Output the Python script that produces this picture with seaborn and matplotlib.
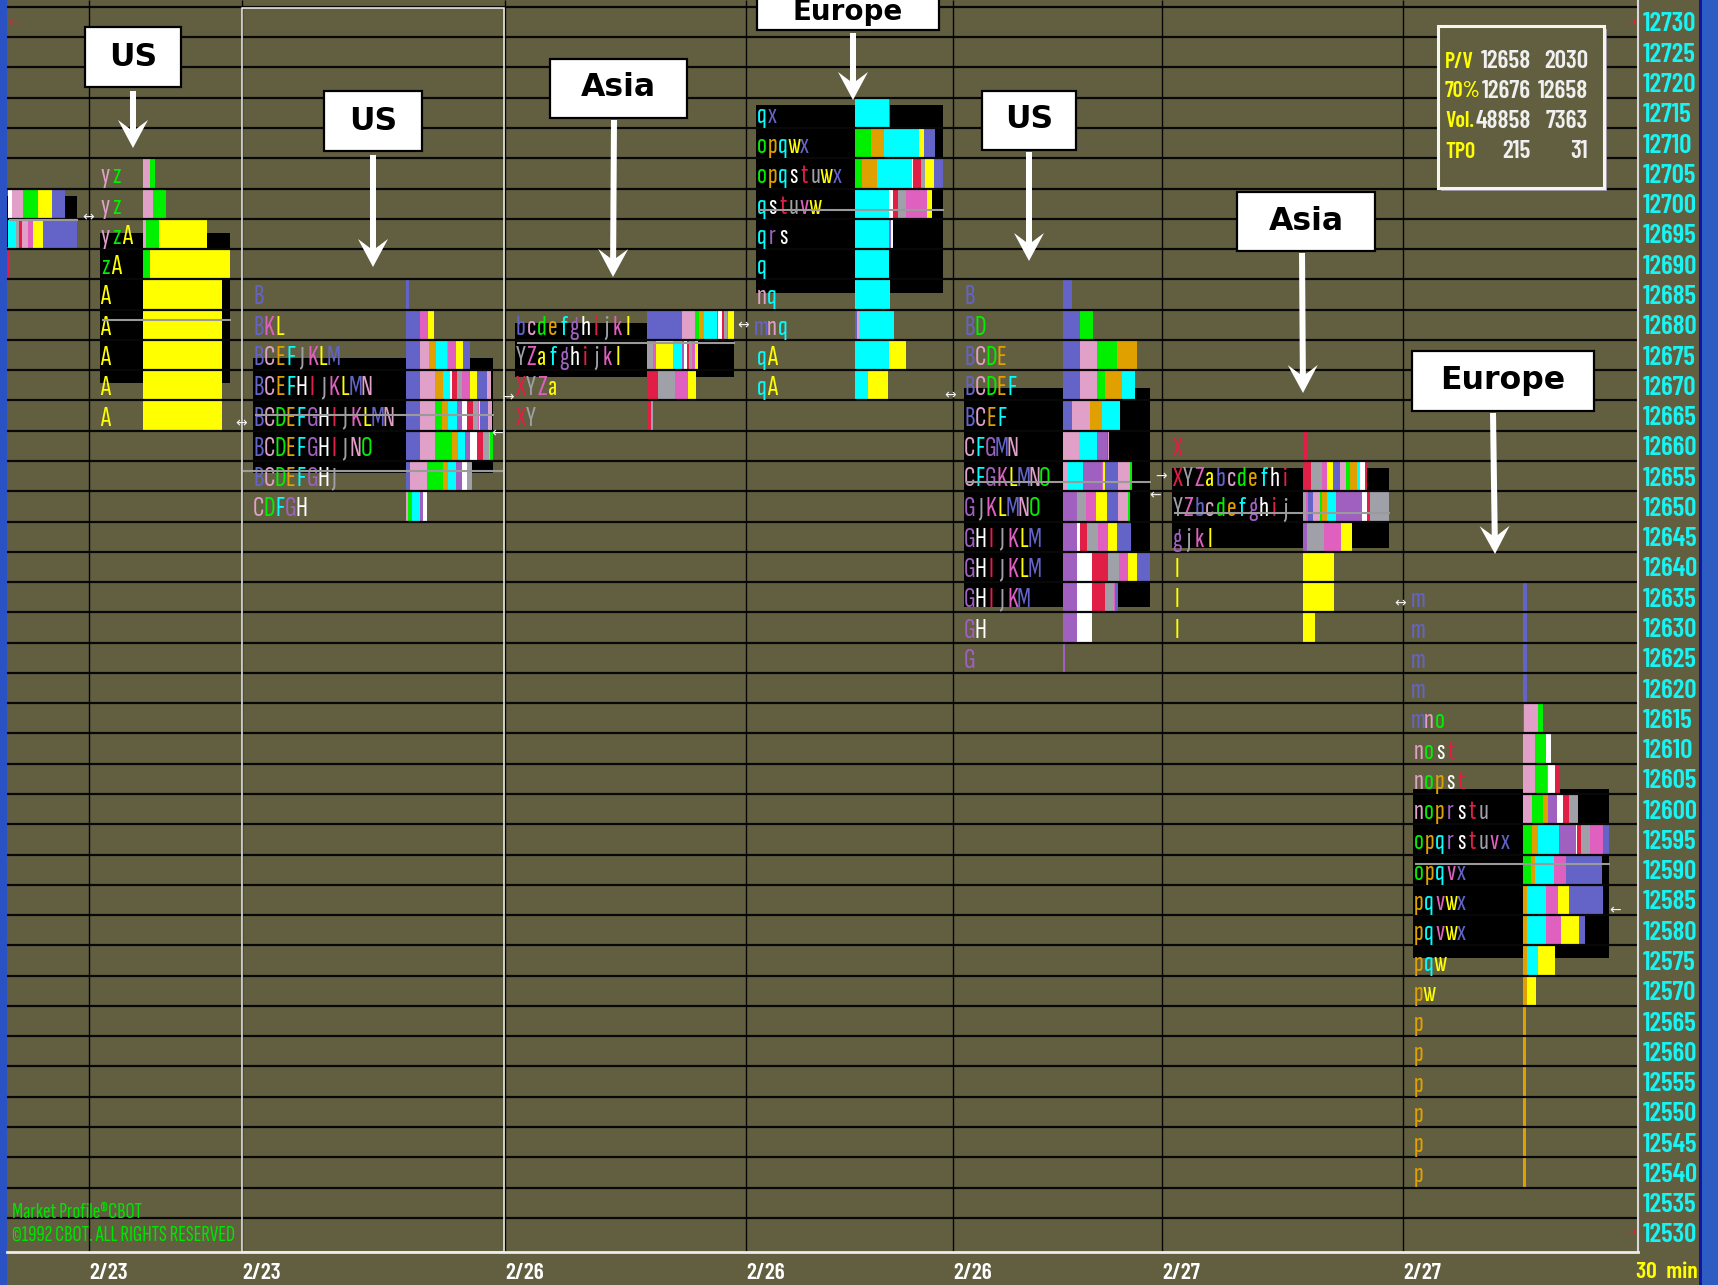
import numpy as np
import matplotlib
matplotlib.use("Agg")
import matplotlib.pyplot as plt
import matplotlib.patches as mpatches
import matplotlib.transforms as mtransforms
from matplotlib import font_manager as fm
from matplotlib.font_manager import FontProperties
from matplotlib.textpath import TextPath
import seaborn as sns

# ======================= DATA =======================
price_ticks = list(range(12530, 12731, 5))
session_dates = ["2/23", "2/23", "2/26", "2/26", "2/26", "2/27", "2/27"]
time_frame = "30 min"

# session 0 (partly off the left edge)
s0_top = 12700
s0_letters = ["hcdlb", "fjicklb", "t"]
s0_widths = [[4, 11, 15, 14, 13], [8, 3, 3, 6, 5, 10, 34], [2]]
s0_va = (12692.8, 12701.3)
s0_poc = [12697.3]

# session 1 (US)
s1_top = 12705
s1_letters = ["yz", "yz", "yzA", "zA", "A", "A", "A", "A", "A"]
s1_widths = [[7, 5], [10, 13], [3, 13, 48], [7, 80], [79], [79], [79], [79], [79]]
s1_va = (12670.4, 12695.2)
s1_poc = [12680.8]

# session 2 (US)
s2_top = 12685
s2_letters = ["B", "BKL", "BCEFJKLM", "BCEFHIJKLMN", "BCDEFGHIJKLMN",
              "BCDEFGHIJNO", "BCDEFGHJ", "CDFGH"]
s2_widths = [[3], [14, 8, 6], [14, 9, 7, 11, 1, 8, 7, 7],
             [14, 15, 8, 7, 2, 5, 5, 8, 7, 10, 4],
             [14, 15, 7, 6, 9, 5, 5, 6, 5, 1, 1, 8, 4],
             [14, 15, 17, 6, 7, 5, 7, 6, 6, 1, 3],
             [4, 17, 16, 5, 8, 6, 5, 5], [2, 4, 8, 3, 4]]
s2_va = (12655.5, 12674.5)
s2_poc = [12665.1, 12655.8]

# session 3 (Asia)
s3_top = 12680
s3_letters = ["bcdefghijkl", "YZafghijkl", "XYZa", "XY"]
s3_widths = [[35, 13, 4, 5, 13, 1, 4, 2, 3, 1, 6],
             [6, 3, 17, 9, 2, 3, 2, 3, 3, 3],
             [11, 17, 13, 8], [4, 2]]
s3_va = (12671.4, 12680.3)
s3_poc = [12677.0]

# session 4 (Europe)
s4_top = 12715
s4_letters = ["qx", "opqwx", "opqstuwx", "qstuvw", "qrs", "q", "nq", "mnq", "qA", "qA"]
s4_widths = [[34, 1], [16, 13, 35, 5, 11], [7, 15, 35, 1, 8, 4, 9, 9],
             [34, 4, 5, 8, 21, 5], [34, 2, 2], [34], [1, 34], [2, 2, 35],
             [34, 17], [13, 20]]
s4_va = (12685.2, 12716.3)
s4_poc = [12699.0]

# session 5 (US)
s5_top = 12685
s5_letters = ["B", "BD", "BCDE", "BCDEF", "BCEF", "CFGMN", "CFGKLMNO", "GJKLMNO",
              "GHIJKLM", "GHIJKLM", "GHIJKM", "GH", "G"]
s5_widths = [[9], [17, 13], [17, 17, 20, 20], [17, 17, 8, 17, 13], [9, 18, 12, 18],
             [16, 18, 10, 1, 1], [5, 15, 19, 1, 2, 13, 12, 2],
             [14, 9, 10, 11, 11, 10, 2], [14, 3, 7, 11, 10, 9, 14],
             [14, 15, 16, 11, 9, 9, 13], [14, 15, 13, 9, 1, 3], [14, 15], [2]]
s5_va = (12633.4, 12669.6)
s5_poc = [12654.0]

# session 6 (Asia)
s6_top = 12660
s6_letters = ["X", "XYZabcdefhi", "YZbcdefghij", "gjkl", "l", "l", "l"]
s6_widths = [[4], [8, 11, 5, 6, 7, 6, 4, 7, 3, 5, 2],
             [3, 2, 5, 7, 2, 5, 9, 26, 5, 3, 19], [4, 17, 17, 11], [31], [31], [12]]
s6_va = (12643.1, 12656.3)
s6_poc = [12648.9]

# session 7 (Europe)
s7_top = 12635
s7_letters = ["m", "m", "m", "m", "mno", "nost", "nopst", "noprstu", "opqrstuvx",
              "opqvx", "pqvwx", "pqvwx", "pqw", "pw", "p", "p", "p", "p", "p", "p"]
s7_widths = [[4], [4], [4], [4], [1, 14, 5], [12, 11, 5, 1], [12, 12, 1, 7, 5],
             [9, 11, 5, 9, 6, 6, 9], [9, 6, 21, 17, 1, 4, 9, 13, 6],
             [8, 4, 19, 12, 36], [4, 19, 12, 11, 34], [4, 19, 15, 18, 6],
             [4, 11, 17], [4, 9], [3], [3], [3], [3], [3], [3]]
s7_va = (12575.4, 12603.3)
s7_poc = [12590.9]

info_labels = ["P/V", "70%", "Vol.", "TPO"]
info_col1 = ["12658", "12676", "48858", "215"]
info_col2 = ["2030", "12658", "7363", "31"]

callout_texts = ["US", "US", "Asia", "Europe", "US", "Asia", "Europe"]
copyright_lines = ["Market Profile\u00aeCBOT", "\u00a91992 CBOT. ALL RIGHTS RESERVED"]

# ======================= LAYOUT / STYLE =======================
W, H = 1718, 1285
PX = 6.055                      # pixels per price point
Y0_PRICE, Y0_PIX = 12730, 22
AX_L, AX_R, AX_B = 7, 1638, 1252
CELL = 10.8
label_x = [None, 100, 253, 515, 756, 964, 1172, 1413]
bar_x = [8, 143, 406, 647, 855, 1063, 1303, 1523]
session_lines = [89, 242, 505, 746, 953, 1162, 1403]

OLIVE = "#625f41"
palette = ["#6464c8", "#e0a0c8", "#00f000", "#e0a000", "#00ffff", "#a060c0",
           "#ffffff", "#e01e46", "#a0a0a8", "#e060c0", "#ffff00"]
color_of = {}
for i, ch in enumerate("BCDEFGHIJKLMNO"):
    color_of[ch] = palette[i % 11]
for i, ch in enumerate("XYZabcdefghijklmnopqrstuvwxyz"):
    color_of[ch] = palette[(i + 7) % 11]
color_of["A"] = "#ffff00"

sessions = [
    dict(top=s0_top, letters=s0_letters, widths=s0_widths, va=s0_va, poc=s0_poc),
    dict(top=s1_top, letters=s1_letters, widths=s1_widths, va=s1_va, poc=s1_poc),
    dict(top=s2_top, letters=s2_letters, widths=s2_widths, va=s2_va, poc=s2_poc),
    dict(top=s3_top, letters=s3_letters, widths=s3_widths, va=s3_va, poc=s3_poc),
    dict(top=s4_top, letters=s4_letters, widths=s4_widths, va=s4_va, poc=s4_poc),
    dict(top=s5_top, letters=s5_letters, widths=s5_widths, va=s5_va, poc=s5_poc),
    dict(top=s6_top, letters=s6_letters, widths=s6_widths, va=s6_va, poc=s6_poc),
    dict(top=s7_top, letters=s7_letters, widths=s7_widths, va=s7_va, poc=s7_poc),
]

# ---------------- fonts ----------------
sns.set_style("dark", {"axes.facecolor": OLIVE, "figure.facecolor": OLIVE,
                       "axes.grid": False})

_WMAP = {"bold": 700, "heavy": 800, "black": 900, "semibold": 600, "demibold": 600,
         "extra bold": 800, "ultrabold": 800, "medium": 500, "normal": 400, "regular": 400}


def _w(v):
    if isinstance(v, str):
        return _WMAP.get(v.lower(), 400)
    return int(v)


_weights = {}
for f in fm.fontManager.ttflist:
    if f.style == "normal":
        _weights.setdefault(f.name, set()).add(_w(f.weight))


def pick(cands, need_bold=False):
    for c in cands:
        if c in _weights:
            if not need_bold or max(_weights[c]) >= 600:
                return c
    return "DejaVu Sans"


_cands = ["Saira Extra Condensed", "Sofia Sans Extra Condensed", "Roboto Condensed",
          "Barlow Condensed", "Pathway Gothic One", "Archivo Narrow", "PT Sans Narrow",
          "Liberation Sans Narrow", "Oswald"]
COND = pick(_cands)
COND_B = pick(["Saira Extra Condensed", "Sofia Sans Extra Condensed", "Barlow Condensed",
               "Roboto Condensed", "Archivo Narrow", "PT Sans Narrow",
               "Liberation Sans Narrow", "Oswald"], need_bold=True)
plt.rcParams["font.family"] = [COND, "DejaVu Sans"]
BW = "semibold"


def fit(family, weight, cap_px, sample=None, max_w=None):
    fp = FontProperties(family=family, weight=weight)
    hp = TextPath((0, 0), "H", size=100, prop=fp).get_extents().height
    s = cap_px * 72.0 / hp
    if sample:
        wp = TextPath((0, 0), sample, size=100, prop=fp).get_extents().width
        s = min(s, max_w * 72.0 / wp)
    return s


fs_tpo = fit(COND, "medium", 20, "M", 11.5)
fs_price = fit(COND_B, BW, 19, "12730", 55)
fs_date = fit(COND_B, BW, 20, "2/23", 37)
fs_info = fit(COND_B, BW, 19, "12658", 49)
fs_info_lab = fit(COND_B, BW, 19, "70%", 34)
fs_copy = fit(COND, "normal", 15, copyright_lines[1], 248)
fs_min = fit(COND_B, BW, 20, "30  min", 60)

# ======================= FIGURE =======================
fig = plt.figure(figsize=(W / 100, H / 100), dpi=100)
fig.patch.set_facecolor(OLIVE)
T = mtransforms.Affine2D().scale(1.0 / W, -1.0 / H).translate(0, 1) + fig.transFigure


def price_at(ypix):
    return Y0_PRICE - (ypix - Y0_PIX) / PX


ax = fig.add_axes([AX_L / W, 1 - AX_B / H, (AX_R - AX_L) / W, AX_B / H])
ax.set_facecolor(OLIVE)
ymin, ymax = price_at(AX_B), price_at(0)
ax.set_xlim(AX_L, AX_R)
ax.set_ylim(ymin, ymax)

# side blue strips
fig.add_artist(mpatches.Rectangle((0, 0), AX_L, H, transform=T, facecolor="#2a52c4",
                                  edgecolor="none", zorder=0))
fig.add_artist(mpatches.Rectangle((1700, 0), 18, H, transform=T, facecolor="#2d5cc2",
                                  edgecolor="none", zorder=0))
fig.add_artist(mpatches.Rectangle((1699, 0), 3, H, transform=T, facecolor="#1016a0",
                                  edgecolor="none", zorder=0))

# grid rows
ax.hlines(np.arange(12532.5, ymax, 5), AX_L, AX_R, color="#080808", lw=1.6, zorder=3)
ax.vlines(session_lines, ymin, ymax, color="#050505", lw=1.0, zorder=3)
ax.add_patch(mpatches.Rectangle((242, ymin), 262, price_at(8) - ymin, fill=False,
                                edgecolor="#f2f2f2", lw=1.1, zorder=3.5))

base_off = 10.0 / PX
for sess, lx, bx in zip(sessions, label_x, bar_x):
    n = len(sess["letters"])
    prices = sess["top"] - 5 * np.arange(n)
    right = bx + max(sum(w) for w in sess["widths"])
    left = lx if lx is not None else AX_L
    lo, hi = sess["va"]
    ax.barh((lo + hi) / 2, right - left, left=left, height=hi - lo, color="black",
            linewidth=0, zorder=1)
    ys, ws, ls, cs = [], [], [], []
    for p, lets, wid in zip(prices, sess["letters"], sess["widths"]):
        cum = bx
        for ch, w in zip(lets, wid):
            ys.append(p)
            ws.append(w)
            ls.append(cum)
            cs.append(color_of[ch])
            cum += w
    ax.barh(ys, ws, left=ls, height=5, color=cs, linewidth=0, zorder=2)
    if lx is not None:
        for p, lets in zip(prices, sess["letters"]):
            for i, ch in enumerate(lets):
                ax.text(lx + i * CELL + CELL / 2, p - base_off, ch, color=color_of[ch],
                        ha="center", va="baseline", fontsize=fs_tpo, family=COND,
                        fontweight="medium", zorder=4)
    for k, pp in enumerate(sess["poc"]):
        if k == 0:
            ax.hlines(pp, left + 2, right + 1, color="#9a9a9a", lw=1.5, zorder=5)
        else:
            ax.hlines(pp, 243, 503, color="#9a9a9a", lw=1.5, zorder=5)

# axes frame
for s in ["top", "left"]:
    ax.spines[s].set_visible(False)
ax.spines["right"].set_color("#d8d8d8")
ax.spines["right"].set_linewidth(1.5)
ax.spines["bottom"].set_color("#ececec")
ax.spines["bottom"].set_linewidth(2.0)
ax.spines["right"].set_zorder(6)
ax.spines["bottom"].set_zorder(6)

# price ladder
ax.yaxis.tick_right()
ax.set_yticks(price_ticks)
ax.set_yticklabels([str(p) for p in price_ticks], color="#18f4f4", fontsize=fs_price,
                   fontweight=BW, family=COND_B)
ax.tick_params(axis="y", length=0, pad=3.5)
# session dates
ax.set_xticks(session_lines)
ax.set_xticklabels(session_dates, color="white", fontsize=fs_date, fontweight=BW,
                   family=COND_B, ha="left")
ax.tick_params(axis="x", length=0, pad=8)
fig.text(1667, 1272, time_frame.replace(" ", "  "), transform=T, color="#ffff00",
         fontsize=fs_min, fontweight=BW, family=COND_B, ha="center", va="center")

# copyright
fig.text(12, 1212, copyright_lines[0], transform=T, color="#00e400", fontsize=fs_copy,
         family=COND, ha="left", va="center")
fig.text(12, 1235, copyright_lines[1], transform=T, color="#00e400", fontsize=fs_copy,
         family=COND, ha="left", va="center")

# info box
fig.add_artist(mpatches.Rectangle((1441, 29), 166, 162, transform=T, facecolor="#a098a8",
                                  edgecolor="none"))
fig.add_artist(mpatches.Rectangle((1438, 26), 166, 162, transform=T, facecolor=OLIVE,
                                  edgecolor="#f4f4f0", lw=2.2))
for yy, a, b, c in zip([62, 91, 121, 152], info_labels, info_col1, info_col2):
    fig.text(1445, yy, a, transform=T, color="#ffff00", fontsize=fs_info_lab, fontweight=BW,
             family=COND_B, ha="left", va="center")
    fig.text(1531, yy, b, transform=T, color="#f0f0f0", fontsize=fs_info, fontweight=BW,
             family=COND_B, ha="right", va="center")
    fig.text(1588, yy, c, transform=T, color="#f0f0f0", fontsize=fs_info, fontweight=BW,
             family=COND_B, ha="right", va="center")

# small arrow markers
marks = [(88, 217, "\u2194"), (241, 423, "\u2194"), (497, 433, "\u2190"), (508, 397, "\u2192"),
         (743, 325, "\u2194"), (950, 395, "\u2194"), (1161, 476, "\u2192"), (1155, 495, "\u2190"),
         (1400, 603, "\u2194"), (1615, 910, "\u2190")]
for x, y, s in marks:
    fig.text(x, y, s, transform=T, color="#f0f0f0", fontsize=10, family="DejaVu Sans",
             ha="center", va="center")
for x, y, s in [(14, 22, "\u2190"), (1630, 22, "\u2192"), (1630, 1232, "\u2192")]:
    fig.text(x, y, s, transform=T, color="#e02040", fontsize=10, family="DejaVu Sans",
             ha="center", va="center")

# callouts
boxes = [(85, 27, 181, 87), (324, 91, 422, 151), (550, 59, 687, 118), (757, -14, 939, 30),
         (982, 91, 1076, 150), (1237, 192, 1375, 251), (1412, 351, 1594, 411)]
text_y = [57, 121, 88, 12, 120, 221, 381]
arrows = [(133, 91, 133, 148), (373, 155, 373, 267), (614, 120, 613, 277), (853, 33, 853, 100),
          (1029, 152, 1029, 261), (1302, 253, 1303, 393), (1493, 413, 1495, 554)]


def arrow_poly(x0, y0, x1, y1, shaft=6, head_w=30, head_l=28, notch=9):
    d = np.array([x1 - x0, y1 - y0], float)
    d /= np.hypot(*d)
    nrm = np.array([-d[1], d[0]])
    s = np.array([x0, y0], float)
    t = np.array([x1, y1], float)
    j = t - d * (head_l - notch)
    b = t - d * head_l
    pts = [s + nrm * shaft / 2, j + nrm * shaft / 2, b + nrm * head_w / 2, t,
           b - nrm * head_w / 2, j - nrm * shaft / 2, s - nrm * shaft / 2]
    return mpatches.Polygon(pts, closed=True, transform=T, facecolor="white",
                            edgecolor="none", zorder=7)


for txt, (x0, y0, x1, y1), ty, arr in zip(callout_texts, boxes, text_y, arrows):
    fig.add_artist(mpatches.Rectangle((x0, y0), x1 - x0, y1 - y0, transform=T,
                                      facecolor="white", edgecolor="black", lw=1.6, zorder=7))
    fs = 20 if y0 < 0 else 22.7
    fig.text((x0 + x1) / 2, ty, txt, transform=T, color="black", fontsize=fs,
             fontweight="bold", family="DejaVu Sans", ha="center", va="center", zorder=8)
    fig.add_artist(arrow_poly(*arr))

fig.savefig("out.png", dpi=100, facecolor=OLIVE)
